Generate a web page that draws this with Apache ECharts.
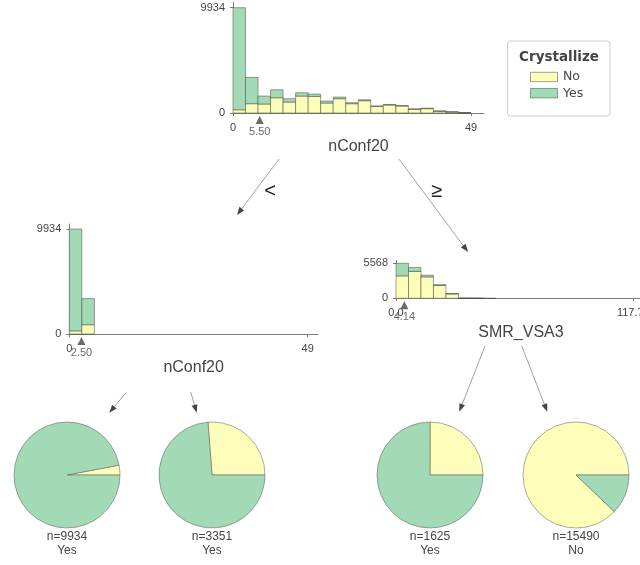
<!DOCTYPE html>
<html>
<head>
<meta charset="utf-8">
<script src="https://cdn.jsdelivr.net/npm/echarts@6/dist/echarts.min.js"></script>
<style>html,body{margin:0;padding:0;background:#fff}#c{width:640px;height:565px}</style>
</head>
<body>
<div id="c"></div>
<script>
// ---------- data ----------
const classNames = ['No', 'Yes'];
const classColors = ['#fefebb', '#a1dab4'];
const legendTitle = 'Crystallize';

// root node: nConf20, 19 bins over [0, 49]
const rootFeature = 'nConf20';
const rootRange = [0, 49];
const rootSplit = 5.5;
const rootNo  = [295, 878, 845, 1440, 1033, 1597, 1565, 939, 1346, 876, 1158, 626, 751, 657, 344, 407, 156, 94, 25];
const rootYes = [9639, 2473, 752, 751, 313, 312, 219, 188, 156, 94, 94, 31, 55, 50, 50, 50, 50, 25, 6];

// left node: nConf20 < 5.5
const leftFeature = 'nConf20';
const leftRange = [0, 49];
const leftSplit = 2.5;
const leftNo  = [295, 878, 0, 0, 0, 0, 0, 0, 0, 0, 0, 0, 0, 0, 0, 0, 0, 0, 0];
const leftYes = [9639, 2473, 0, 0, 0, 0, 0, 0, 0, 0, 0, 0, 0, 0, 0, 0, 0, 0, 0];

// right node: SMR_VSA3
const rightFeature = 'SMR_VSA3';
const rightRange = [0, 117.72];
const rightSplit = 4.14;
const rightNo  = [3568, 4280, 3410, 2030, 690, 15, 5, 3, 0, 0, 0, 0, 0, 0, 0, 0, 0, 0, 0];
const rightYes = [2000, 620, 270, 150, 70, 5, 2, 0, 0, 0, 0, 0, 0, 0, 0, 0, 0, 0, 0];

// leaves
const leafNo  = [295, 878, 406, 13608];
const leafYes = [9639, 2473, 1219, 1882];
const leafN   = [9934, 3351, 1625, 15490];
const leafPred = ['Yes', 'Yes', 'Yes', 'No'];

// ---------- layout ----------
const FONT = 'Liberation Sans';
const TXT = '#444443';
const panels = [
  {feat: rootFeature, range: rootRange, split: rootSplit, no: rootNo, yes: rootYes, left: 233, top: 2.5, width: 251, height: 110.5, axisPx: 238, zeroDigits: 0, yTopPx: 105.3},
  {feat: leftFeature, range: leftRange, split: leftSplit, no: leftNo, yes: leftYes, left: 69.3, top: 224, width: 248.7, height: 110, axisPx: 238.4, zeroDigits: 0, yTopPx: 105},
  {feat: rightFeature, range: rightRange, split: rightSplit, no: rightNo, yes: rightYes, left: 396, top: 260.5, width: 250, height: 37.8, axisPx: 237.3, zeroDigits: 1, yTopPx: 35}
];

const grids = [], xAxes = [], yAxes = [], series = [];
panels.forEach((p, i) => {
  const nb = p.no.length;
  const bw = (p.range[1] - p.range[0]) / nb;
  const totals = p.no.map((v, k) => v + p.yes[k]);
  const ymaxVal = Math.max(...totals);
  const xMax = p.range[1] * p.width / p.axisPx;
  const yMax = ymaxVal * p.height / p.yTopPx;
  grids.push({left: p.left, top: p.top, width: p.width, height: p.height, containLabel: false, outerBoundsMode: 'none'});
  const fmtX = v => (p.zeroDigits ? v.toFixed(v === 0 ? 1 : 2) : String(Math.round(v)));
  xAxes.push({
    type: 'value', gridIndex: i, min: 0, max: xMax,
    axisLine: {show: true, onZero: false, lineStyle: {color: '#7a7a7a', width: 1}},
    axisTick: {show: true, length: 3, customValues: [p.range[0], p.range[1]], lineStyle: {color: '#7a7a7a'}},
    axisLabel: {show: true, customValues: [p.range[0], p.range[1]], formatter: fmtX, fontSize: 11, color: TXT, fontFamily: FONT, margin: 9},
    splitLine: {show: false},
    name: p.feat, nameLocation: 'middle', nameGap: 26,
    nameTextStyle: {fontSize: 16, color: TXT, fontFamily: FONT}
  });
  yAxes.push({
    type: 'value', gridIndex: i, min: 0, max: yMax,
    axisLine: {show: true, lineStyle: {color: '#7a7a7a', width: 1}},
    axisTick: {show: true, length: 3, customValues: [0, ymaxVal], lineStyle: {color: '#7a7a7a'}},
    axisLabel: {show: true, customValues: [0, ymaxVal], formatter: v => String(Math.round(v)), fontSize: 11, color: TXT, fontFamily: FONT, margin: 8},
    splitLine: {show: false}
  });
  const data = p.no.map((v, k) => [p.range[0] + k * bw, p.range[0] + (k + 1) * bw, v, p.yes[k]]);
  series.push({
    type: 'custom', xAxisIndex: i, yAxisIndex: i, silent: true,
    data: data, encode: {x: [0, 1], y: [2, 3]},
    renderItem: function (params, api) {
      const x0 = api.value(0), x1 = api.value(1), no = api.value(2), yes = api.value(3);
      const base = api.coord([x0, 0]);
      const pNo = api.coord([x1, no]);
      const pTot = api.coord([x1, no + yes]);
      const children = [];
      if (no + yes <= 0) return {type: 'group', children: []};
      if (no > 0) children.push({type: 'rect', shape: {x: base[0], y: pNo[1], width: pNo[0] - base[0], height: base[1] - pNo[1]},
        style: {fill: classColors[0], stroke: '#444443', lineWidth: 0.5}});
      if (yes > 0) children.push({type: 'rect', shape: {x: base[0], y: pTot[1], width: pTot[0] - base[0], height: pNo[1] - pTot[1]},
        style: {fill: classColors[1], stroke: '#444443', lineWidth: 0.5}});
      return {type: 'group', children: children};
    }
  });
  series.push({
    type: 'scatter', xAxisIndex: i, yAxisIndex: i, silent: true, clip: false, z: 10,
    data: [[p.split, 0]], symbol: 'triangle', symbolSize: [8, 8], symbolOffset: [0, 7],
    itemStyle: {color: '#444443'},
    label: {show: true, position: 'bottom', distance: 2, formatter: () => p.split.toFixed(2), fontSize: 11, color: TXT, fontFamily: FONT}
  });
});

// leaf pies
const pieCenters = [[67, 475], [212, 475], [430, 475], [576, 475]];
leafN.forEach((n, i) => {
  series.push({
    type: 'pie', silent: true, center: pieCenters[i], radius: 53,
    startAngle: 0, clockwise: false, label: {show: false}, labelLine: {show: false},
    itemStyle: {borderColor: '#555', borderWidth: 0.5},
    data: [
      {name: classNames[0], value: leafNo[i], itemStyle: {color: classColors[0]}},
      {name: classNames[1], value: leafYes[i], itemStyle: {color: classColors[1]}}
    ]
  });
});

// ---------- graphics: arrows, edge labels, leaf texts, legend ----------
function arrow(x1, y1, x2, y2) {
  const a = Math.atan2(y2 - y1, x2 - x1), c = Math.cos(a), s = Math.sin(a);
  const L = 8, W = 3;
  const bx = x2 - L * c, by = y2 - L * s;
  return [
    {type: 'line', shape: {x1: x1, y1: y1, x2: bx, y2: by}, style: {stroke: '#8a8a8a', lineWidth: 0.8}, silent: true},
    {type: 'polygon', shape: {points: [[x2, y2], [bx - W * s, by + W * c], [bx + W * s, by - W * c]]}, style: {fill: '#444443'}, silent: true}
  ];
}
const arrows = [
  [279, 159, 237, 215], [399, 159, 468, 252],
  [126, 392.7, 109.3, 412.7], [190.7, 392, 196.7, 412.7],
  [485, 346, 459.3, 411.7], [521.7, 346, 547.3, 411.7]
];
let graphics = [];
arrows.forEach(a => { graphics = graphics.concat(arrow(...a)); });

const edgeLabels = [{t: '<', x: 270, y: 191}, {t: '\u2265', x: 436.5, y: 191}];
edgeLabels.forEach(e => graphics.push({type: 'text', x: e.x, y: e.y, silent: true,
  style: {text: e.t, fontSize: 20, fontFamily: FONT, fill: '#222', align: 'center', verticalAlign: 'middle'}}));

leafN.forEach((n, i) => {
  graphics.push({type: 'text', x: pieCenters[i][0], y: 537, silent: true,
    style: {text: 'n=' + n, fontSize: 12, fontFamily: FONT, fill: TXT, align: 'center', verticalAlign: 'middle'}});
  graphics.push({type: 'text', x: pieCenters[i][0], y: 550.5, silent: true,
    style: {text: leafPred[i], fontSize: 12, fontFamily: FONT, fill: TXT, align: 'center', verticalAlign: 'middle'}});
});

// legend
graphics.push({type: 'rect', shape: {x: 507.5, y: 41, width: 102.5, height: 75, r: 3}, silent: true,
  style: {fill: '#fff', stroke: '#cccccc', lineWidth: 1}});
graphics.push({type: 'text', x: 559, y: 57, silent: true,
  style: {text: legendTitle, fontSize: 13.5, fontWeight: 'bold', fontFamily: 'DejaVu Sans', fill: TXT, align: 'center', verticalAlign: 'middle'}});
classNames.forEach((nm, i) => {
  const y = 72.3 + i * 16.2;
  graphics.push({type: 'rect', shape: {x: 530.5, y: y, width: 27, height: 9.4}, silent: true,
    style: {fill: classColors[i], stroke: '#444443', lineWidth: 0.5}});
  graphics.push({type: 'text', x: 563, y: y + 4.9, silent: true,
    style: {text: nm, fontSize: 12.5, fontFamily: 'DejaVu Sans', fill: TXT, align: 'left', verticalAlign: 'middle'}});
});

const chart = echarts.init(document.getElementById('c'), null, {renderer: 'canvas'});
chart.setOption({
  animation: false,
  backgroundColor: '#fff',
  textStyle: {fontFamily: FONT},
  grid: grids, xAxis: xAxes, yAxis: yAxes,
  series: series,
  graphic: graphics
});
</script>
</body>
</html>
